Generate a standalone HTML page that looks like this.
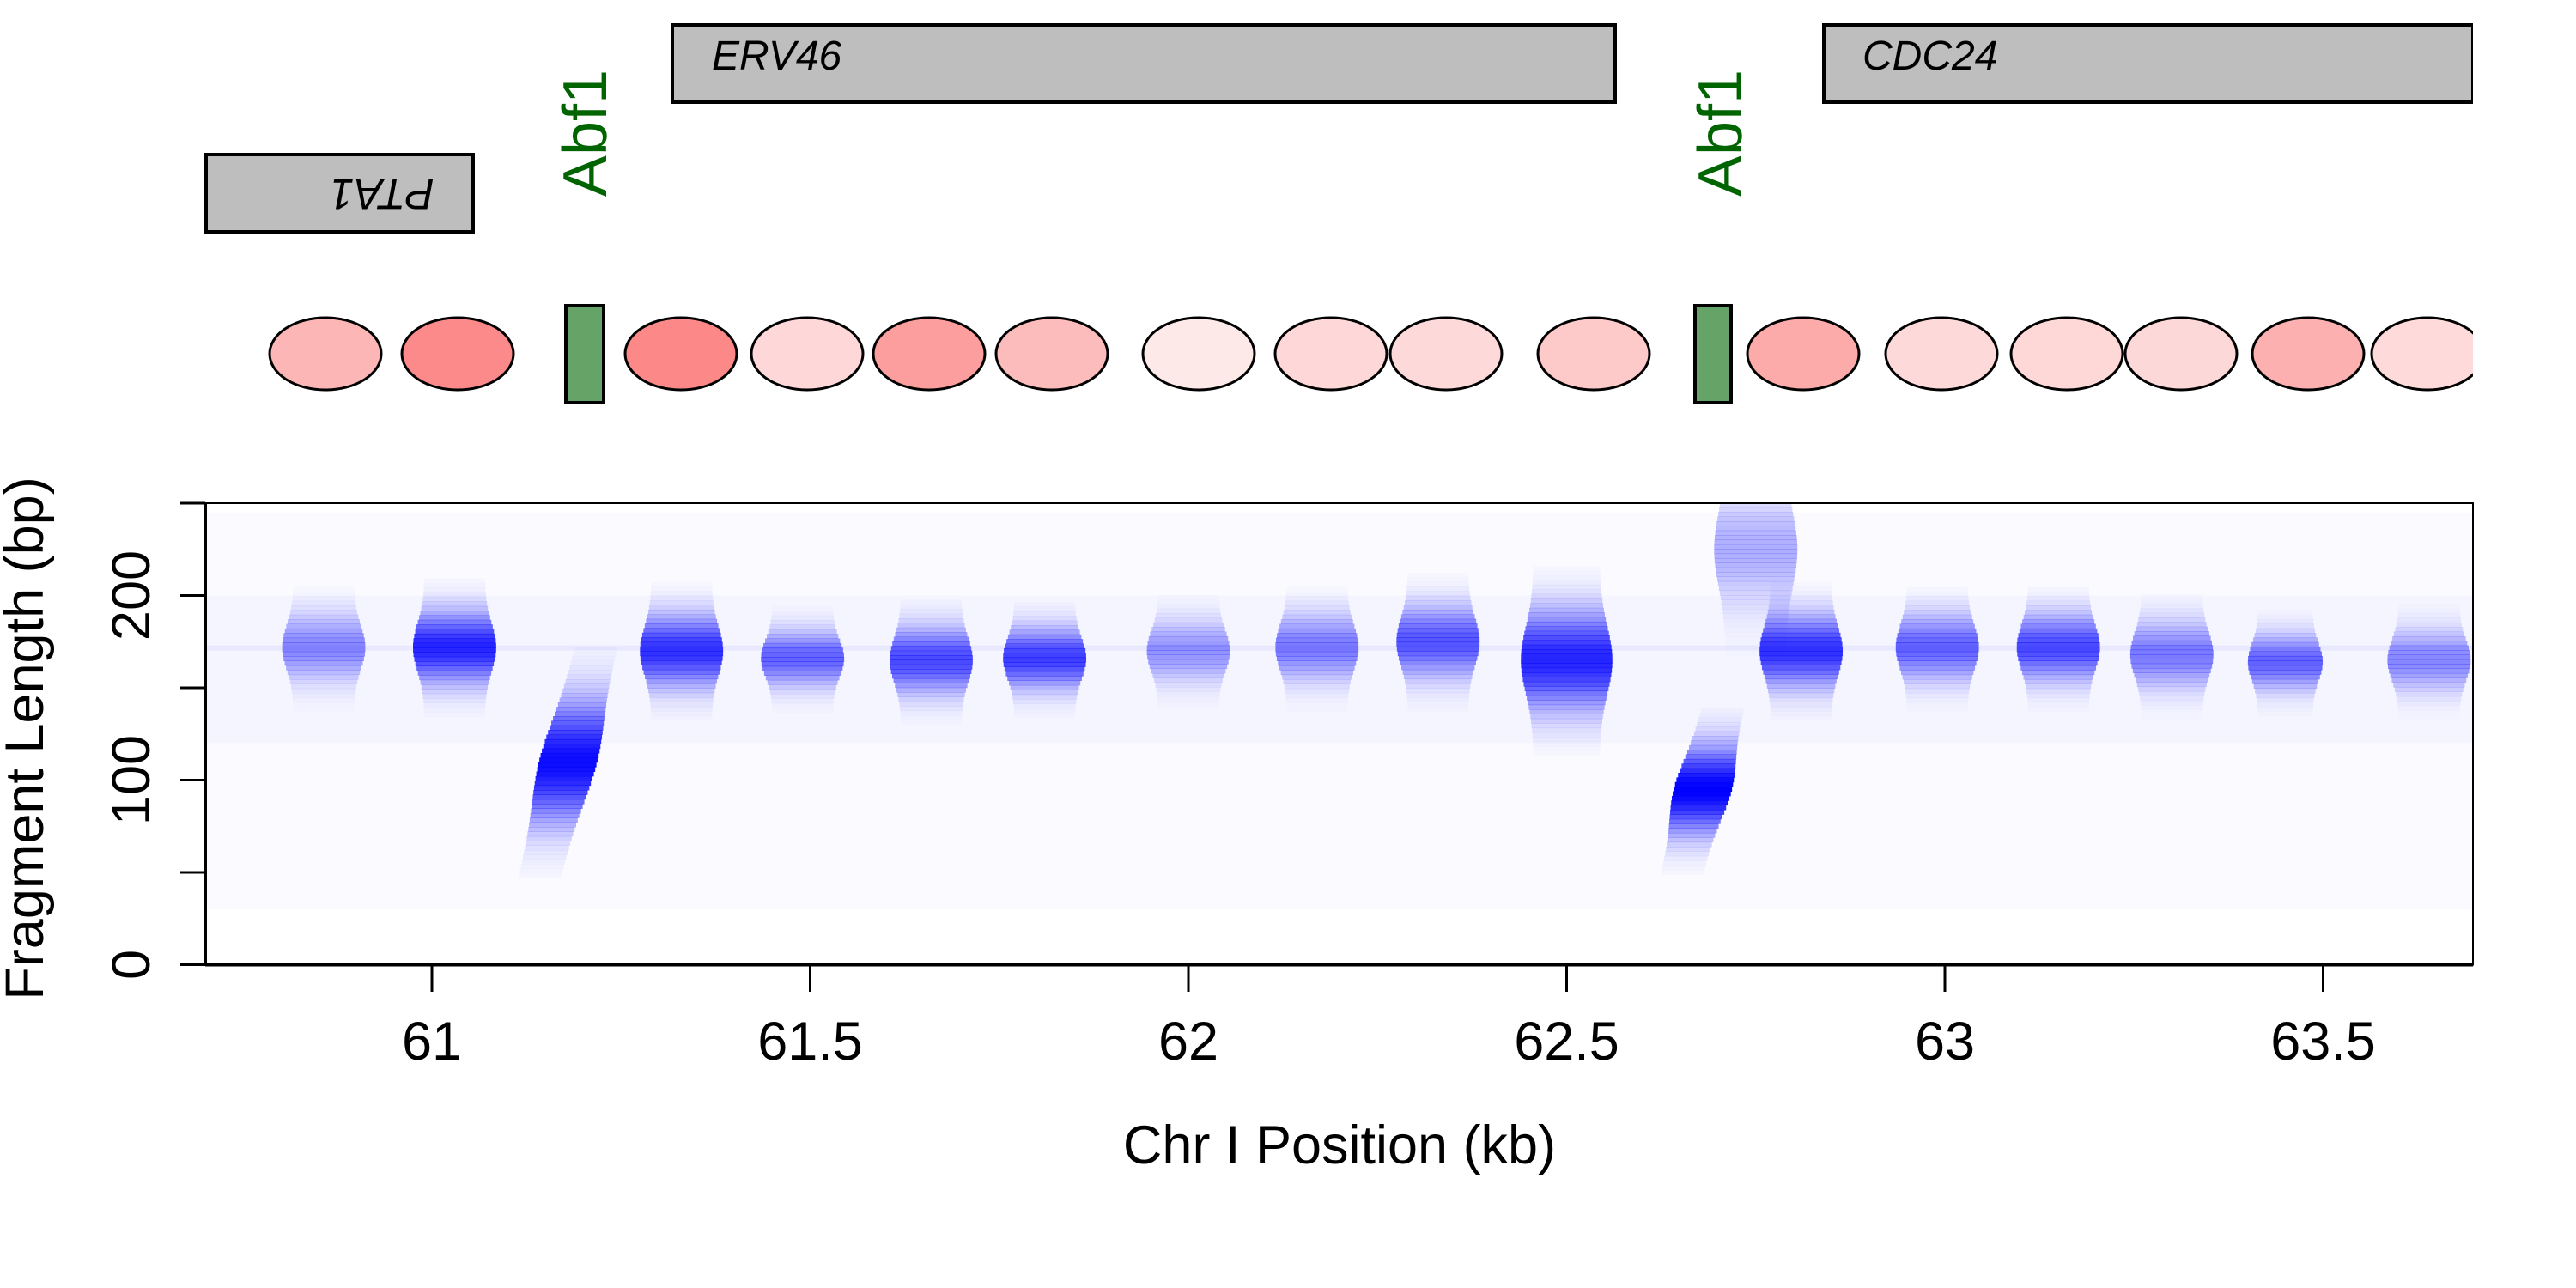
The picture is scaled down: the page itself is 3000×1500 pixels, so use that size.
<!DOCTYPE html>
<html><head><meta charset="utf-8"><style>
html,body{margin:0;padding:0;background:#fff;}
svg{display:block;font-family:"Liberation Sans",Arial,sans-serif;}
</style></head><body>
<svg id="fig" width="3000" height="1500" viewBox="0 0 3000 1500" xmlns="http://www.w3.org/2000/svg">
<g>
  <rect x="240" y="180" width="311" height="90" fill="#bebebe" stroke="#000" stroke-width="4"/>
  <text transform="translate(445,222) rotate(180)" font-size="50" font-style="italic" text-anchor="middle" dominant-baseline="middle">PTA1</text>
  <rect x="783" y="29" width="1098" height="90" fill="#bebebe" stroke="#000" stroke-width="4"/>
  <text x="829" y="81" font-size="48" font-style="italic">ERV46</text>
  <rect x="2124" y="29" width="756" height="90" fill="#bebebe" stroke="#000" stroke-width="4"/>
  <text x="2169" y="81" font-size="48" font-style="italic">CDC24</text>
  <rect x="2880" y="20" width="120" height="110" fill="#fff"/>
  <text transform="translate(706,155) rotate(-90)" font-size="72" fill="#006400" text-anchor="middle">Abf1</text>
  <text transform="translate(2028,155) rotate(-90)" font-size="72" fill="#006400" text-anchor="middle">Abf1</text>
</g>
<g id="nucs"></g>
<g id="heat"></g>
<g id="axes"></g>
<text transform="translate(50,860) rotate(-90)" font-size="63" text-anchor="middle">Fragment Length (bp)</text>
<text x="1560" y="1355" font-size="63" text-anchor="middle">Chr I Position (kb)</text>
</svg>
<script>
// nucleosome track data
const nucCentersPx = [379,533,793,940,1082,1225,1396,1550,1684,1856,2100,2261,2407,2540,2688,2827];
const nucFills = ["#fcb6b6","#fc8a8a","#fc8888","#fed8d8","#fd9e9e","#fdbcbc","#fee9e9","#fed8d8","#fdd9d9","#fdc9c9","#fdaaaa","#fed9d9","#fed7d7","#fdd8d8","#fdb0b0","#fedada"];
const abf1Sites = [[659,703],[1974,2016]];
// heatmap cluster data
const clusterKb   = [60.857,61.03,61.18,61.33,61.49,61.66,61.81,62.00,62.17,62.33,62.50,62.68,62.81,62.99,63.15,63.30,63.45,63.64,62.75];
const clusterBp   = [172,172,110,170,166,165,166,170,172,175,165,95,170,172,172,168,164,165,225];
const clusterSd   = [12,13,22,13,10,12,11,11,12,13,18,16,13,12,12,12,10,11,20];
const clusterPeak = [0.45,0.85,0.95,0.8,0.6,0.7,0.75,0.4,0.5,0.65,0.85,1.0,0.8,0.6,0.7,0.5,0.6,0.45,0.3];
const clusterWid  = [0.10,0.10,0.07,0.10,0.10,0.10,0.10,0.10,0.10,0.10,0.11,0.07,0.10,0.10,0.10,0.10,0.09,0.10,0.10];
const xTicks = [61,61.5,62,62.5,63,63.5];
const xTickLabels = ["61","61.5","62","62.5","63","63.5"];
const yTicks = [0,50,100,150,200,250];
const yTickLabels = ["0","","100","","200",""];

const NS="http://www.w3.org/2000/svg";
const L=239,R=2880,T=586,B=1123.5;
const xS=kb=>503+(kb-61)*881;
const yS=bp=>B-bp*2.15;
function mk(tag,attrs,parent){const e=document.createElementNS(NS,tag);for(const k in attrs)e.setAttribute(k,attrs[k]);parent.appendChild(e);return e;}

const nucs=document.getElementById('nucs');
const clip=mk('clipPath',{id:'trackclip'},mk('defs',{},nucs));
mk('rect',{x:0,y:0,width:R,height:600},clip);
const ng=mk('g',{'clip-path':'url(#trackclip)'},nucs);
nucCentersPx.forEach((cx,i)=>{
  const e=mk('ellipse',{cx:cx,cy:412,rx:65,ry:42,fill:nucFills[i],stroke:'#000','stroke-width':3},ng);
  
  
});
abf1Sites.forEach((s,i)=>{
  const r=mk('rect',{x:s[0],y:356,width:s[1]-s[0],height:113,fill:'#66a366',stroke:'#000','stroke-width':4},nucs);
  
  
});

const heat=document.getElementById('heat');
const hc=mk('clipPath',{id:'heatclip'},mk('defs',{},heat));
mk('rect',{x:L,y:T,width:R-L,height:B-T},hc);
const hg=mk('g',{'clip-path':'url(#heatclip)'},heat);
const bg=mk('rect',{x:L,y:yS(245),width:R-L,height:yS(30)-yS(245),fill:'rgba(0,0,255,0.02)'},hg);


const bg2=mk('rect',{x:L,y:yS(200),width:R-L,height:yS(120)-yS(200),fill:'rgba(0,0,255,0.02)'},hg);


const streak=mk('rect',{x:L,y:yS(173),width:R-L,height:6,fill:'rgba(0,0,255,0.05)'},hg);


clusterKb.forEach((kb,i)=>{
  const g=mk('g',{},hg);
  
  
  const sd=clusterSd[i];
  for(let d=-2.8*sd; d<=2.8*sd; d+=2.5){
    const bp=clusterBp[i]+d;
    const f=Math.exp(-d*d/(2*sd*sd));
    const op=clusterPeak[i]*f;
    const w=clusterWid[i]*(0.8+0.3*f);
    const shift=(i===2||i===11)?d*0.0006:0;
    mk('rect',{x:xS(kb+shift)-w*881/2,y:yS(bp+1.25),width:w*881,height:2.15*2.5+0.5,fill:'#0000ff','fill-opacity':op.toFixed(3)},g);
  }
});

const axes=document.getElementById('axes');
const frame=mk('rect',{x:L,y:T,width:R-L,height:B-T,fill:'none',stroke:'#000','stroke-width':2},axes);


mk('line',{x1:L,y1:B,x2:R,y2:B,stroke:'#000','stroke-width':4},axes);
mk('line',{x1:L,y1:T,x2:L,y2:B,stroke:'#000','stroke-width':4},axes);
xTicks.forEach((t,i)=>{
  const x=xS(t);
  const tk=mk('line',{x1:x,y1:B,x2:x,y2:1155,stroke:'#000','stroke-width':3},axes);
  
  
  const lb=mk('text',{x:x,y:1234,'font-size':63,'text-anchor':'middle'},axes);
  lb.textContent=xTickLabels[i];
  
  
});
yTicks.forEach((t,i)=>{
  const y=yS(t);
  const tk=mk('line',{x1:210,y1:y,x2:L,y2:y,stroke:'#000','stroke-width':3},axes);
  
  
  if(yTickLabels[i]){
    const lb=mk('text',{transform:`translate(174,${y}) rotate(-90)`,'font-size':63,'text-anchor':'middle'},axes);
    lb.textContent=yTickLabels[i];
    
    
  }
});
</script>
</body></html>
